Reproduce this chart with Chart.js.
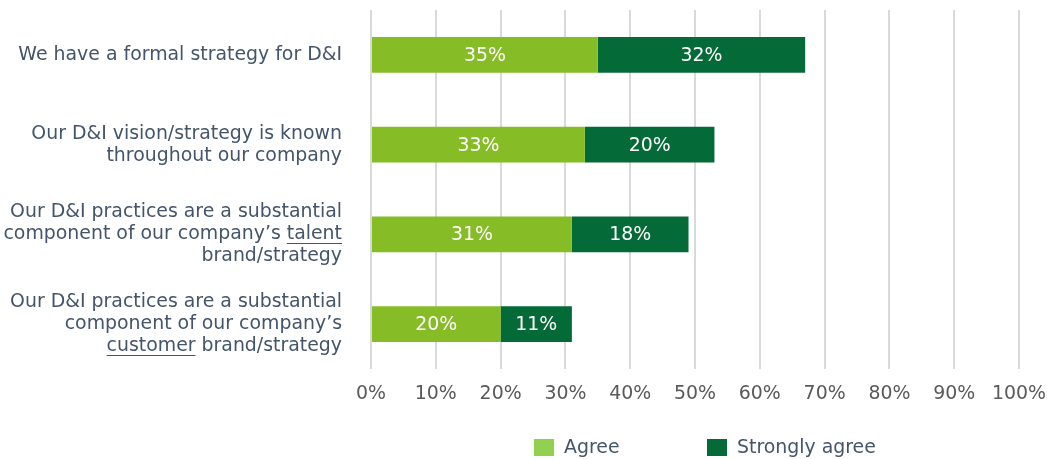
<!DOCTYPE html>
<html>
<head>
<meta charset="utf-8">
<script src="https://cdn.jsdelivr.net/npm/chart.js@4/dist/chart.umd.min.js"></script>
<style>
  html, body { margin: 0; padding: 0; background: #ffffff; }
  #wrap { position: relative; width: 1047px; height: 459px; }
</style>
</head>
<body>
<div id="wrap"><canvas id="c" width="1047" height="459"></canvas></div>
<script>
// Survey statements (each inner array is one printed line)
const categories = [
  ['We have a formal strategy for D&I'],
  ['Our D&I vision/strategy is known', 'throughout our company'],
  ['Our D&I practices are a substantial', 'component of our company\u2019s talent', 'brand/strategy'],
  ['Our D&I practices are a substantial', 'component of our company\u2019s', 'customer brand/strategy']
];
// Word emphasised (underlined) in each statement, if any
const underlinedWords = [null, null, 'talent', 'customer'];

const seriesNames = ['Agree', 'Strongly agree'];
const agree = [35, 33, 31, 20];
const stronglyAgree = [32, 20, 18, 11];
const xTickValues = [0, 10, 20, 30, 40, 50, 60, 70, 80, 90, 100];

const FONT = '"DejaVu Sans", Verdana, sans-serif';
const FONT_SIZE = 18.9;
const LINE_H = 22;
const LABEL_PAD = 29;
const TEXT_SLATE = '#44546A';

// Percent labels centred in each bar segment
const segmentLabels = {
  id: 'segmentLabels',
  afterDatasetsDraw(chart) {
    const ctx = chart.ctx;
    ctx.save();
    ctx.font = FONT_SIZE + 'px ' + FONT;
    ctx.fillStyle = '#ffffff';
    ctx.textAlign = 'center';
    ctx.textBaseline = 'middle';
    chart.data.datasets.forEach((ds, di) => {
      const meta = chart.getDatasetMeta(di);
      meta.data.forEach((bar, i) => {
        const v = ds.data[i];
        ctx.fillText(Math.round(v) + '%', (bar.x + bar.base) / 2, bar.y + 1);
      });
    });
    ctx.restore();
  }
};

// Underline the emphasised word inside the category labels
const labelUnderline = {
  id: 'labelUnderline',
  afterDraw(chart) {
    const scale = chart.scales.y;
    const ctx = chart.ctx;
    ctx.save();
    ctx.font = FONT_SIZE + 'px ' + FONT;
    ctx.strokeStyle = TEXT_SLATE;
    ctx.lineWidth = 1;
    const xRight = scale.right - LABEL_PAD;
    categories.forEach((lines, i) => {
      const word = underlinedWords[i];
      if (!word) return;
      const yc = scale.getPixelForTick(i);
      lines.forEach((line, li) => {
        const idx = line.indexOf(word);
        if (idx < 0) return;
        const lineW = ctx.measureText(line).width;
        const startX = xRight - lineW + ctx.measureText(line.slice(0, idx)).width;
        const wordW = ctx.measureText(word).width;
        const y = Math.round(yc + (li - (lines.length - 1) / 2) * LINE_H + 9) + 0.5;
        ctx.beginPath();
        ctx.moveTo(startX, y);
        ctx.lineTo(startX + wordW, y);
        ctx.stroke();
      });
    });
    ctx.restore();
  }
};

// Legend row under the axis
const legendSwatches = ['#92D050', '#046A38'];
const bottomLegend = {
  id: 'bottomLegend',
  afterDraw(chart) {
    const ctx = chart.ctx;
    ctx.save();
    ctx.font = FONT_SIZE + 'px ' + FONT;
    ctx.textBaseline = 'middle';
    ctx.textAlign = 'left';
    const starts = [534, 707];
    const yc = 448;
    chart.data.datasets.forEach((ds, i) => {
      const x = starts[i];
      ctx.fillStyle = legendSwatches[i];
      ctx.fillRect(x, 439, 20, 17);
      ctx.fillStyle = TEXT_SLATE;
      ctx.fillText(ds.label, x + 30, yc);
    });
    ctx.restore();
  }
};

new Chart(document.getElementById('c'), {
  type: 'bar',
  data: {
    labels: categories,
    datasets: [
      { label: seriesNames[0], data: agree, backgroundColor: '#86BC25', borderWidth: 0 },
      { label: seriesNames[1], data: stronglyAgree, backgroundColor: '#046A38', borderWidth: 0 }
    ]
  },
  options: {
    indexAxis: 'y',
    responsive: false,
    animation: false,
    devicePixelRatio: 1,
    layout: { padding: { top: 10, right: 0, bottom: 40, left: 0 } },
    datasets: { bar: { categoryPercentage: 0.8, barPercentage: 0.5 } },
    plugins: {
      legend: { display: false },
      tooltip: { enabled: false }
    },
    scales: {
      x: {
        stacked: true,
        min: 0,
        max: 100,
        afterBuildTicks(scale) { scale.ticks = xTickValues.map(v => ({ value: v })); },
        afterFit(scale) {
          scale.height = 50;
          scale.paddingLeft = 0;
          scale.paddingRight = 28;
        },
        grid: { color: '#D9D9D9', lineWidth: 2, drawTicks: false },
        border: { display: false },
        ticks: {
          callback: v => v + '%',
          color: '#595959',
          padding: 14,
          maxRotation: 0,
          font: { family: FONT, size: FONT_SIZE }
        }
      },
      y: {
        stacked: true,
        afterFit(scale) {
          scale.width = 371;
          scale.paddingTop = 0;
          scale.paddingBottom = 0;
        },
        grid: { display: false, drawTicks: false },
        border: { display: false },
        ticks: {
          color: TEXT_SLATE,
          padding: LABEL_PAD,
          font: { family: FONT, size: FONT_SIZE, lineHeight: LINE_H / FONT_SIZE }
        }
      }
    }
  },
  plugins: [segmentLabels, labelUnderline, bottomLegend]
});
</script>
</body>
</html>
